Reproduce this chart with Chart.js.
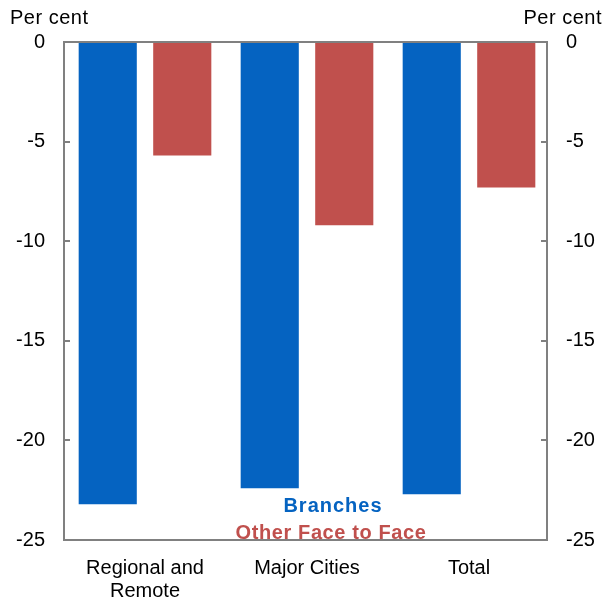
<!DOCTYPE html>
<html><head><meta charset="utf-8">
<script src="https://cdn.jsdelivr.net/npm/chart.js@4/dist/chart.umd.min.js"></script>
<style>html,body{margin:0;padding:0;background:#fff;}#wrap{width:603px;height:601px;}</style>
</head><body><div id="wrap"><canvas id="c" width="603" height="601"></canvas></div>
<script>
const categories = [["Regional and","Remote"], "Major Cities", "Total"];
const branches = [-23.2, -22.4, -22.7];
const otherFaceToFace = [-5.7, -9.2, -7.3];
const yTicks = [0, -5, -10, -15, -20, -25];
const unitLabel = "Per cent";

const FONT = "'Liberation Sans', Arial, sans-serif";
const AXIS = '#808080';

const framePlugin = {
  id: 'frame',
  afterDraw(chart) {
    const ctx = chart.ctx, a = chart.chartArea;
    const y = chart.scales.y;
    const right = a.right - 3;
    ctx.save();
    ctx.strokeStyle = AXIS; ctx.lineWidth = 2;
    ctx.strokeRect(a.left, a.top, right - a.left, a.bottom - a.top);
    yTicks.forEach(v => {
      const p = Math.round(y.getPixelForValue(v));
      ctx.beginPath(); ctx.moveTo(a.left, p); ctx.lineTo(a.left + 6, p); ctx.stroke();
      ctx.beginPath(); ctx.moveTo(right, p); ctx.lineTo(right - 6, p); ctx.stroke();
    });
    ctx.fillStyle = '#000';
    ctx.font = '20px ' + FONT;
    ctx.textBaseline = 'middle';
    ctx.textAlign = 'left';
    if ('letterSpacing' in ctx) ctx.letterSpacing = '0.5px';
    ctx.fillText(unitLabel, 10, 18);
    ctx.textAlign = 'right';
    ctx.fillText(unitLabel, 602, 18);
    ctx.font = 'bold 20px ' + FONT;
    if ('letterSpacing' in ctx) ctx.letterSpacing = '1px';
    ctx.textAlign = 'center';
    const ds = chart.data.datasets;
    ctx.fillStyle = ds[0].backgroundColor;
    ctx.fillText(ds[0].label, 333, 506);
    if ('letterSpacing' in ctx) ctx.letterSpacing = '0.6px';
    ctx.fillStyle = ds[1].backgroundColor;
    ctx.fillText(ds[1].label, 331, 533);
    ctx.restore();
  }
};

new Chart(document.getElementById('c'), {
  type: 'bar',
  data: {
    labels: categories,
    datasets: [
      { label: 'Branches', data: branches, backgroundColor: '#0563C1', yAxisID: 'y' },
      { label: 'Other Face to Face', data: otherFaceToFace, backgroundColor: '#C0504D', yAxisID: 'y' }
    ]
  },
  options: {
    responsive: false,
    animation: false,
    events: [],
    layout: { padding: { top: 42, left: 0, right: 0, bottom: 0 } },
    plugins: { legend: { display: false }, tooltip: { enabled: false } },
    datasets: { bar: { categoryPercentage: 0.92, barPercentage: 0.78 } },
    scales: {
      x: {
        grid: { display: false, drawTicks: false },
        border: { display: false },
        ticks: { color: '#000', font: { family: FONT, size: 20, lineHeight: 1.15 }, padding: 17, maxRotation: 0, autoSkip: false },
        afterFit(s) { s.height = 61; }
      },
      y: {
        position: 'left', min: -25, max: 0,
        grid: { display: false, drawTicks: false },
        border: { display: false },
        ticks: { stepSize: 5, color: '#000', font: { family: FONT, size: 20 }, padding: 19 },
        afterFit(s) { s.width = 64; }
      },
      y2: {
        position: 'right', min: -25, max: 0,
        grid: { display: false, drawTicks: false },
        border: { display: false },
        ticks: { stepSize: 5, color: '#000', font: { family: FONT, size: 20 }, padding: 16 },
        afterFit(s) { s.width = 53; }
      }
    }
  },
  plugins: [framePlugin]
});
</script></body></html>
